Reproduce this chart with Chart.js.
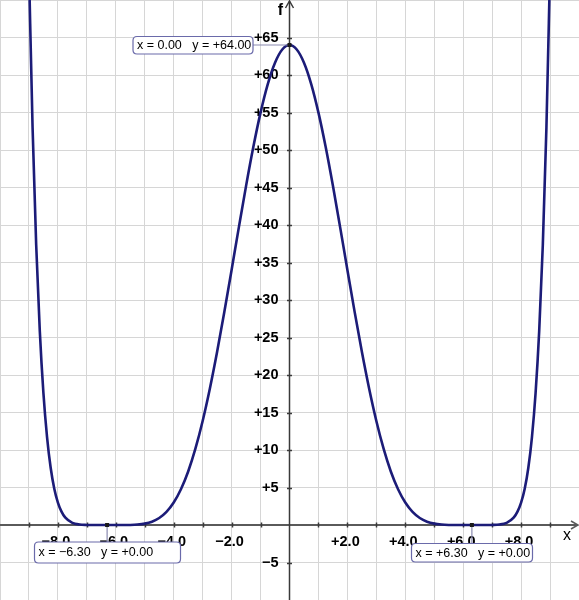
<!DOCTYPE html>
<html>
<head>
<meta charset="utf-8">
<script src="https://cdn.jsdelivr.net/npm/chart.js@4.4.1/dist/chart.umd.min.js"></script>
<style>
  html, body { margin: 0; padding: 0; background: #ffffff; }
  #wrap { width: 579px; height: 600px; }
</style>
</head>
<body>
<div id="wrap"><canvas id="c" width="579" height="600"></canvas></div>
<script>
// ---- data ----
const xValues = [-9.0, -8.875, -8.75, -8.625, -8.5, -8.375, -8.25, -8.125, -8.0, -7.875, -7.75, -7.5, -7.25, -7.0, -6.75, -6.5, -6.25, -6.0, -5.75, -5.5, -5.25, -5.0, -4.75, -4.5, -4.25, -4.0, -3.75, -3.5, -3.25, -3.0, -2.75, -2.5, -2.25, -2.0, -1.75, -1.5, -1.25, -1.0, -0.75, -0.5, -0.25, 0.0,
  0.25, 0.5, 0.75, 1.0, 1.25, 1.5, 1.75, 2.0, 2.25, 2.5, 2.75, 3.0, 3.25, 3.5, 3.75, 4.0, 4.25, 4.5, 4.75, 5.0, 5.25, 5.5, 5.75, 6.0, 6.25, 6.5, 6.75, 7.0, 7.25, 7.5, 7.75, 7.875, 8.0, 8.125, 8.25, 8.375, 8.5, 8.625, 8.75, 8.875, 9.0];
const fValues = [74.22, 53.03, 37.33, 25.85, 17.58, 11.72, 7.63, 4.84, 2.99, 1.78, 1.02, 0.29, 0.06, 0.01, 0.0, 0.0, 0.0, 0.0, 0.0, 0.01, 0.06, 0.18, 0.44, 0.93, 1.74, 2.99, 4.76, 7.13, 10.17, 13.87, 18.20, 23.09, 28.42, 34.01, 39.68, 45.22, 50.39, 54.98, 58.79, 61.64, 63.40, 64.00,
  63.40, 61.64, 58.79, 54.98, 50.39, 45.22, 39.68, 34.01, 28.42, 23.09, 18.20, 13.87, 10.17, 7.13, 4.76, 2.99, 1.74, 0.93, 0.44, 0.18, 0.06, 0.01, 0.0, 0.0, 0.0, 0.0, 0.0, 0.01, 0.06, 0.29, 1.02, 1.78, 2.99, 4.84, 7.63, 11.72, 17.58, 25.85, 37.33, 53.03, 74.22];

const xLabelValues = [-8, -6, -4, -2, 2, 4, 6, 8];
const yLabelValues = [-5, 5, 10, 15, 20, 25, 30, 35, 40, 45, 50, 55, 60, 65];

const markX = [0.0, -6.3, 6.3];
const markY = [64.0, 0.0, 0.0];
const markText = ['x = 0.00   y = +64.00', 'x = \u22126.30   y = +0.00', 'x = +6.30   y = +0.00'];

const xAxisName = 'x';
const yAxisName = 'f';

// ---- helpers ----
function signed(v, digits) {
  const s = Math.abs(v).toFixed(digits);
  if (v > 0) return '+' + s;
  if (v < 0) return '\u2212' + s;
  return s;
}

function roundRect(ctx, x, y, w, h, r) {
  ctx.beginPath();
  ctx.moveTo(x + r, y);
  ctx.lineTo(x + w - r, y);
  ctx.quadraticCurveTo(x + w, y, x + w, y + r);
  ctx.lineTo(x + w, y + h - r);
  ctx.quadraticCurveTo(x + w, y + h, x + w - r, y + h);
  ctx.lineTo(x + r, y + h);
  ctx.quadraticCurveTo(x, y + h, x, y + h - r);
  ctx.lineTo(x, y + r);
  ctx.quadraticCurveTo(x, y, x + r, y);
  ctx.closePath();
}

const axesPlugin = {
  id: 'axesPlugin',
  beforeDatasetsDraw(chart) {
    const ctx = chart.ctx;
    const xs = chart.scales.x, ys = chart.scales.y;
    const area = chart.chartArea;
    const x0 = xs.getPixelForValue(0);
    const y0 = ys.getPixelForValue(0);
    ctx.save();
    // x axis
    ctx.strokeStyle = '#5a5a5a';
    ctx.lineWidth = 2;
    ctx.beginPath();
    ctx.moveTo(area.left, y0);
    ctx.lineTo(area.right - 2, y0);
    ctx.stroke();
    ctx.lineWidth = 1.5;
    ctx.beginPath();
    ctx.moveTo(area.right - 8, y0 - 4);
    ctx.lineTo(area.right - 1, y0);
    ctx.lineTo(area.right - 8, y0 + 4);
    ctx.stroke();
    // y axis
    ctx.strokeStyle = '#3a3a3a';
    ctx.lineWidth = 1.5;
    ctx.beginPath();
    ctx.moveTo(x0, area.bottom);
    ctx.lineTo(x0, area.top + 1);
    ctx.stroke();
    ctx.beginPath();
    ctx.moveTo(x0 - 4, area.top + 8);
    ctx.lineTo(x0, area.top + 1);
    ctx.lineTo(x0 + 4, area.top + 8);
    ctx.stroke();
    // x tick marks every unit
    ctx.strokeStyle = '#3a3a3a';
    ctx.lineWidth = 1.5;
    for (let v = -9; v <= 9; v++) {
      if (v === 0) continue;
      const px = Math.round(xs.getPixelForValue(v)) + 0.5;
      ctx.beginPath();
      ctx.moveTo(px, y0 - 2.5);
      ctx.lineTo(px, y0 + 2.5);
      ctx.stroke();
    }
    // y tick marks every 5
    for (let v = -5; v <= 65; v += 5) {
      if (v === 0) continue;
      const py = Math.round(ys.getPixelForValue(v)) + 0.5;
      ctx.beginPath();
      ctx.moveTo(x0 - 2.5, py);
      ctx.lineTo(x0 + 2.5, py);
      ctx.stroke();
    }
    // tick labels
    ctx.fillStyle = '#000000';
    ctx.font = 'bold 14.5px "Liberation Sans", Arial, sans-serif';
    ctx.textBaseline = 'middle';
    ctx.textAlign = 'center';
    xLabelValues.forEach(v => {
      ctx.fillText(signed(v, 1), xs.getPixelForValue(v) - 2, y0 + 17);
    });
    ctx.textAlign = 'right';
    yLabelValues.forEach(v => {
      ctx.fillText(signed(v, 0), x0 - 11, ys.getPixelForValue(v));
    });
    // axis names
    ctx.font = '16px "Liberation Sans", Arial, sans-serif';
    ctx.textAlign = 'center';
    ctx.fillText(xAxisName, area.right - 12, y0 + 11);
    ctx.font = 'bold 16px "Liberation Sans", Arial, sans-serif';
    ctx.fillText(yAxisName, x0 - 9, area.top + 11);
    ctx.restore();
  },
  afterDatasetsDraw(chart) {
    const ctx = chart.ctx;
    const xs = chart.scales.x, ys = chart.scales.y;
    const boxes = [
      { bx: 133, by: 36.5, bw: 120, bh: 17.5, side: 'h' },
      { bx: 34.5, by: 542, bw: 146, bh: 21, side: 'v' },
      { bx: 411.5, by: 543.5, bw: 121, bh: 18.5, side: 'v' }
    ];
    ctx.save();
    markX.forEach((mx, i) => {
      const px = xs.getPixelForValue(mx);
      const py = ys.getPixelForValue(markY[i]);
      const b = boxes[i];
      ctx.strokeStyle = '#8a8ab0';
      ctx.lineWidth = 1.2;
      ctx.beginPath();
      if (b.side === 'h') {
        ctx.moveTo(b.bx + b.bw, py);
        ctx.lineTo(px, py);
      } else {
        ctx.moveTo(px, py);
        ctx.lineTo(px, b.by);
      }
      ctx.stroke();
      ctx.fillStyle = '#1a1a1a';
      ctx.fillRect(px - 2, py - 2, 4, 4);
      roundRect(ctx, b.bx, b.by, b.bw, b.bh, 4);
      ctx.fillStyle = '#ffffff';
      ctx.fill();
      ctx.strokeStyle = '#6a6aaa';
      ctx.lineWidth = 1.2;
      ctx.stroke();
      ctx.fillStyle = '#000000';
      ctx.font = '12.5px "Liberation Sans", Arial, sans-serif';
      ctx.textAlign = 'left';
      ctx.textBaseline = 'middle';
      ctx.fillText(markText[i], b.bx + 4, b.by + b.bh / 2 + 0.5);
    });
    ctx.restore();
  }
};

const points = xValues.map((x, i) => ({ x: x, y: fValues[i] }));

new Chart(document.getElementById('c'), {
  type: 'scatter',
  data: {
    datasets: [{
      data: points,
      showLine: true,
      borderColor: '#1c1c78',
      borderWidth: 2.6,
      pointRadius: 0,
      pointHoverRadius: 0,
      cubicInterpolationMode: 'monotone',
      fill: false
    }]
  },
  options: {
    responsive: false,
    animation: false,
    events: [],
    layout: { padding: 0 },
    plugins: { legend: { display: false }, tooltip: { enabled: false } },
    scales: {
      x: {
        type: 'linear',
        min: -10, max: 10,
        ticks: { display: false, stepSize: 1 },
        grid: { color: '#d6d6d6', lineWidth: 1, drawTicks: false },
        border: { display: false }
      },
      y: {
        type: 'linear',
        min: -10, max: 70,
        ticks: { display: false, stepSize: 5 },
        grid: { color: '#d6d6d6', lineWidth: 1, drawTicks: false },
        border: { display: false }
      }
    }
  },
  plugins: [axesPlugin]
});
</script>
</body>
</html>
